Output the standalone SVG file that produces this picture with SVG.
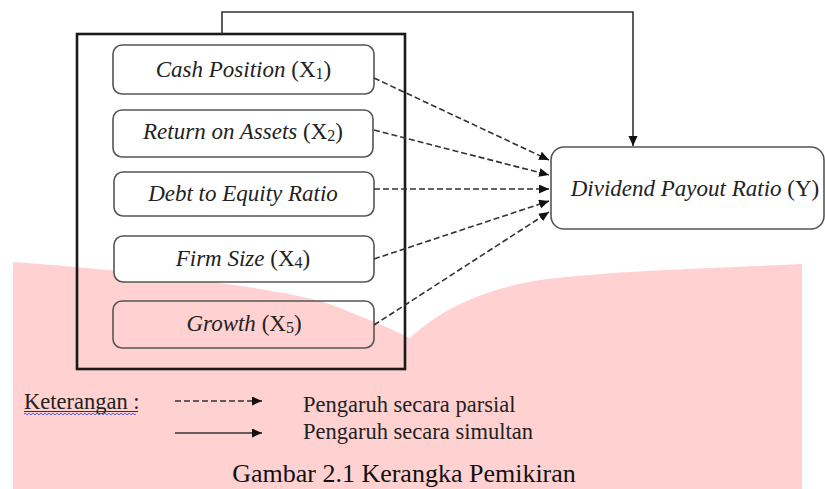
<svg xmlns="http://www.w3.org/2000/svg" width="825" height="489" viewBox="0 0 825 489">
  <style>
    .bg { fill: #ffd1d1; }
    .outer { fill: none; stroke: #1a1a1a; stroke-width: 2.6; }
    .node { fill: #ffffff; stroke: #555555; stroke-width: 1.6; }
    .node-pink { fill: none; stroke: #555555; stroke-width: 1.6; }
    .lbl { font-family: "Liberation Serif", "Times New Roman", serif; font-size: 23px; fill: #222222; text-anchor: middle; }
    .it { font-style: italic; }
    .sub { font-size: 16px; }
    .dash { fill: none; stroke: #333333; stroke-width: 1.6; stroke-dasharray: 6 3; }
    .solid { fill: none; stroke: #333333; stroke-width: 1.6; }
    .legend { font-family: "Liberation Serif", "Times New Roman", serif; font-size: 22.5px; fill: #222222; }
    .caption { font-family: "Liberation Serif", "Times New Roman", serif; font-size: 26px; fill: #111111; text-anchor: middle; }
  </style>
  <defs>
    <marker id="ah" markerUnits="userSpaceOnUse" markerWidth="11" markerHeight="10" refX="10" refY="4.5" orient="auto">
      <path d="M0,0 L10,4.5 L0,9 Z" fill="#111111"/>
    </marker>
  </defs>

  <rect x="0" y="0" width="825" height="489" fill="#ffffff"/>
  <path class="bg" d="M13,262 C150,272 300,290 340,308 C370,320 395,330 410,338 C440,310 480,290 540,280 C620,270 720,268 802,264 L802,489 L13,489 Z"/>

  <g id="outer-frame">
    <rect class="outer" x="77" y="34" width="328" height="335"/>
  </g>

  <g id="node-x1">
    <rect class="node" x="113" y="45" width="261" height="49" rx="9"/>
    <text class="lbl" x="243.5" y="77"><tspan class="it">Cash Position</tspan> (X<tspan class="sub" dy="2">1</tspan><tspan dy="-2">)</tspan></text>
  </g>
  <g id="node-x2">
    <rect class="node" x="113" y="110" width="260" height="47" rx="9"/>
    <text class="lbl" x="243" y="139"><tspan class="it">Return on Assets</tspan> (X<tspan class="sub" dy="2">2</tspan><tspan dy="-2">)</tspan></text>
  </g>
  <g id="node-x3">
    <rect class="node" x="114" y="172" width="260" height="44" rx="9"/>
    <text class="lbl it" x="243" y="201">Debt to Equity Ratio</text>
  </g>
  <g id="node-x4">
    <rect class="node" x="114" y="236" width="260" height="46" rx="9"/>
    <text class="lbl" x="243" y="266"><tspan class="it">Firm Size</tspan> (X<tspan class="sub" dy="2">4</tspan><tspan dy="-2">)</tspan></text>
  </g>
  <g id="node-x5">
    <rect class="node-pink" x="113" y="301" width="261" height="47" rx="9"/>
    <text class="lbl" x="244" y="331"><tspan class="it">Growth</tspan> (X<tspan class="sub" dy="2">5</tspan><tspan dy="-2">)</tspan></text>
  </g>
  <g id="node-y">
    <rect class="node" x="551" y="147" width="273" height="82" rx="13"/>
    <text class="lbl" x="695" y="196"><tspan class="it">Dividend Payout Ratio</tspan> (Y)</text>
  </g>

  <g id="connectors">
    <path class="dash" d="M374,78 L549,160" marker-end="url(#ah)"/>
    <path class="dash" d="M374,130 L549,175" marker-end="url(#ah)"/>
    <path class="dash" d="M374,189 L549,189" marker-end="url(#ah)"/>
    <path class="dash" d="M374,259 L549,201" marker-end="url(#ah)"/>
    <path class="dash" d="M374,325 L549,212" marker-end="url(#ah)"/>
    <path class="solid" d="M222,34 L222,12 L633,12 L633,146" marker-end="url(#ah)"/>
  </g>

  <g id="legend">
    <text class="legend" x="24" y="409">Keterangan :</text>
    <line x1="24" y1="411.5" x2="138" y2="411.5" stroke="#333333" stroke-width="1"/>
    <path d="M24,414 q1,-1.6 2,0 t2,0 t2,0 t2,0 t2,0 t2,0 t2,0 t2,0 t2,0 t2,0 t2,0 t2,0 t2,0 t2,0 t2,0 t2,0 t2,0 t2,0 t2,0 t2,0 t2,0 t2,0 t2,0 t2,0 t2,0 t2,0 t2,0 t2,0 t2,0 t2,0 t2,0 t2,0 t2,0 t2,0 t2,0 t2,0 t2,0 t2,0 t2,0 t2,0 t2,0 t2,0 t2,0 t2,0 t2,0 t2,0 t2,0 t2,0 t2,0 t2,0 t2,0 t2,0 t2,0 t2,0 t2,0 t2,0" fill="none" stroke="#4a5ee8" stroke-width="1"/>
    <path class="dash" d="M175,401 L262,401" marker-end="url(#ah)"/>
    <path class="solid" d="M175,433 L262,433" marker-end="url(#ah)"/>
    <text class="legend" x="303" y="412">Pengaruh secara parsial</text>
    <text class="legend" x="303" y="439">Pengaruh secara simultan</text>
  </g>

  <text class="caption" x="404" y="482">Gambar 2.1 Kerangka Pemikiran</text>
</svg>
